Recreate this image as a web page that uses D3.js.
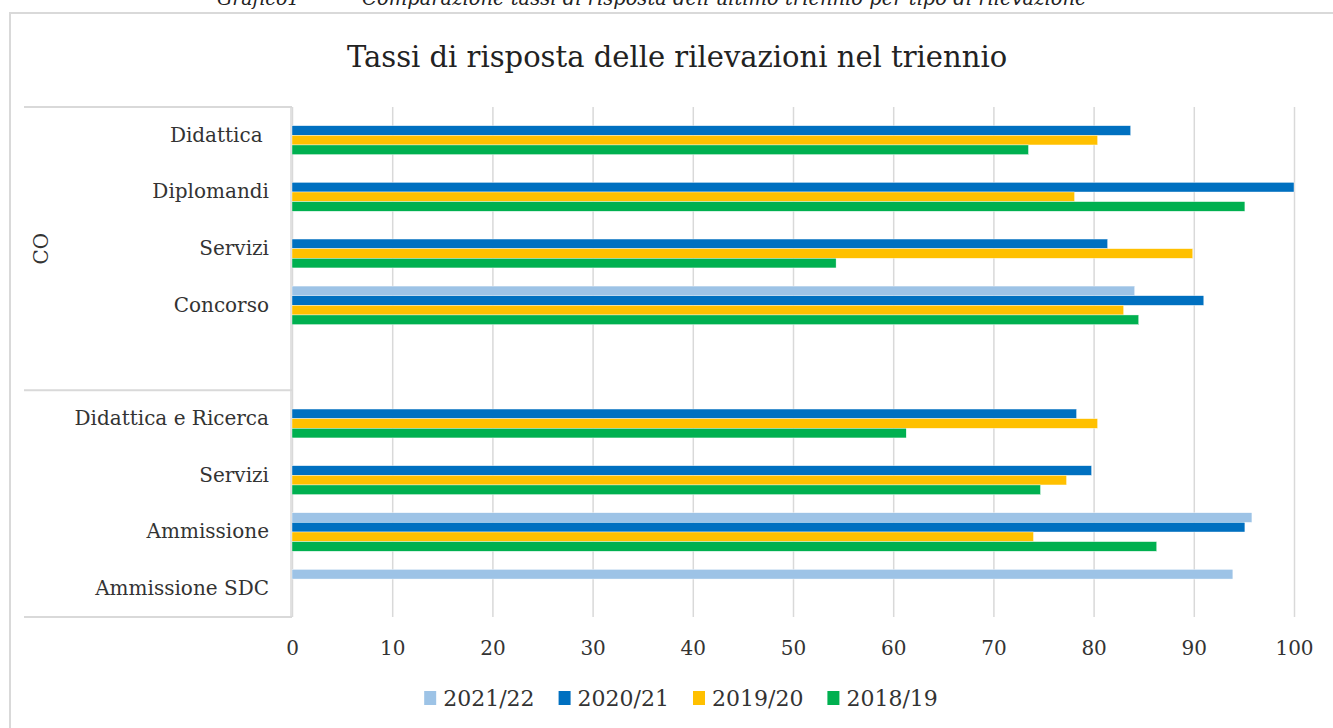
<!DOCTYPE html>
<html lang="it">
<head>
<meta charset="UTF-8">
<title>Tassi di risposta</title>
<script src="https://cdn.jsdelivr.net/npm/d3@7/dist/d3.min.js"></script>
<style>
    body { margin: 0; background: #fff; overflow: hidden; }
    text { font-family: "DejaVu Serif", "Liberation Serif", serif; fill: #404040; }
</style>
</head>
<body>
<script>
// data
var categories = ["Didattica ", "Diplomandi", "Servizi", "Concorso", "", "Didattica e Ricerca", "Servizi", "Ammissione", "Ammissione SDC"];
var groups = [{ label: "CO", from: 0, to: 4 }, { label: "", from: 5, to: 8 }];
var series = ["2021/22", "2020/21", "2019/20", "2018/19"];
var colors = ["#9dc3e6", "#0070c0", "#ffc000", "#00b050"];
var v2122 = [null, null, null, 84.1, null, null, null, 95.8, 93.9];
var v2021 = [83.7, 100, 81.4, 91.0, null, 78.3, 79.8, 95.1, null];
var v1920 = [80.4, 78.1, 89.9, 83.0, null, 80.4, 77.3, 74.0, null];
var v1819 = [73.5, 95.1, 54.3, 84.5, null, 61.3, 74.7, 86.3, null];
var xTicks = [0, 10, 20, 30, 40, 50, 60, 70, 80, 90, 100];

var values = [v2122, v2021, v1920, v1819];

var W = 1333, H = 728;
var pLeft = 292, pRight = 1294, pTop = 107, pBottom = 617;
var lineCol = "#d9d9d9";

var svg = d3.select("body").append("svg").attr("width", W).attr("height", H);

// caption cut by the top of the page
svg.append("text").attr("x", 217).attr("y", 5)
    .style("font-style", "italic").style("font-size", "19px").style("fill", "#222")
    .text("Grafico1");
svg.append("text").attr("x", 362).attr("y", 5)
    .style("font-style", "italic").style("font-size", "19.5px").style("fill", "#222")
    .text("Comparazione tassi di risposta dell\u2019ultimo triennio per tipo di rilevazione");

// chart frame
svg.append("rect").attr("x", 10).attr("y", 13).attr("width", W).attr("height", H)
    .attr("fill", "none").attr("stroke", lineCol).attr("stroke-width", 2);

svg.append("text").attr("x", 677).attr("y", 67).attr("text-anchor", "middle")
    .style("font-size", "29px").style("fill", "#222")
    .text("Tassi di risposta delle rilevazioni nel triennio");

var x = d3.scaleLinear().domain([0, 100]).range([pLeft, pRight]);
var keys = categories.map(function(c, i) { return i; });
var y = d3.scaleBand().domain(keys).range([pTop, pBottom]).paddingInner(0.32).paddingOuter(0.16);
var ys = d3.scaleBand().domain(series).range([0, y.bandwidth()]);

// gridlines
var grid = svg.append("g").attr("transform", "translate(0," + pBottom + ")")
    .call(d3.axisBottom(x).tickValues(xTicks).tickSize(-(pBottom - pTop)).tickFormat(""));
grid.select(".domain").remove();
grid.selectAll("line").attr("stroke", lineCol).attr("stroke-width", 1.5);

// tick labels
var xa = svg.append("g").attr("transform", "translate(0," + pBottom + ")")
    .call(d3.axisBottom(x).tickValues(xTicks).tickSize(0).tickPadding(24));
xa.select(".domain").remove();
xa.selectAll("text").style("font-size", "20px").style("font-family", null).style("fill", "#333");

// bars
series.forEach(function(s, si) {
    svg.append("g").selectAll("rect")
        .data(values[si].map(function(v, i) { return { i: i, v: v }; }).filter(function(d) { return d.v !== null; }))
        .enter().append("rect")
        .attr("x", x(0))
        .attr("y", function(d) { return y(d.i) + ys(s); })
        .attr("width", function(d) { return x(d.v) - x(0); })
        .attr("height", ys.bandwidth())
        .attr("fill", colors[si])
        .attr("stroke", "#fff").attr("stroke-width", 0.4);
});

// category axis
var ya = svg.append("g").attr("transform", "translate(" + pLeft + ",0)")
    .call(d3.axisLeft(y).tickSize(0).tickPadding(23).tickFormat(function(i) { return categories[i]; }));
ya.select(".domain").remove();
ya.selectAll("text").style("font-size", "20px").style("font-family", null).style("fill", "#333")
    .style("white-space", "pre");

svg.append("line").attr("x1", pLeft - 1).attr("x2", pLeft - 1).attr("y1", pTop).attr("y2", pBottom)
    .attr("stroke", lineCol).attr("stroke-width", 1.5);

var step = y.step();
var bounds = [pTop].concat(groups.map(function(g) { return pTop + (g.to + 1) * step; }));
svg.selectAll(".sep").data(bounds).enter().append("line")
    .attr("x1", 24).attr("x2", pLeft).attr("y1", function(d) { return d; }).attr("y2", function(d) { return d; })
    .attr("stroke", lineCol).attr("stroke-width", 2);

groups.forEach(function(g) {
    var cy = pTop + (g.from + g.to + 1) / 2 * step;
    svg.append("text").attr("transform", "translate(48," + cy + ") rotate(-90)")
        .attr("text-anchor", "middle").style("font-size", "20px").style("fill", "#333").text(g.label);
});

// legend
var legend = svg.append("g");
var lx = 0;
series.forEach(function(s, si) {
    var it = legend.append("g").attr("transform", "translate(" + lx + ",0)");
    it.append("rect").attr("x", 0).attr("y", -15).attr("width", 12).attr("height", 14).attr("fill", colors[si]);
    var t = it.append("text").attr("x", 19).attr("y", 0).style("font-size", "22px").style("fill", "#333").text(s);
    lx += 19 + t.node().getComputedTextLength() + 24;
});
lx -= 24;
legend.attr("transform", "translate(" + (681 - lx / 2) + ",706)");
</script>
</body>
</html>
